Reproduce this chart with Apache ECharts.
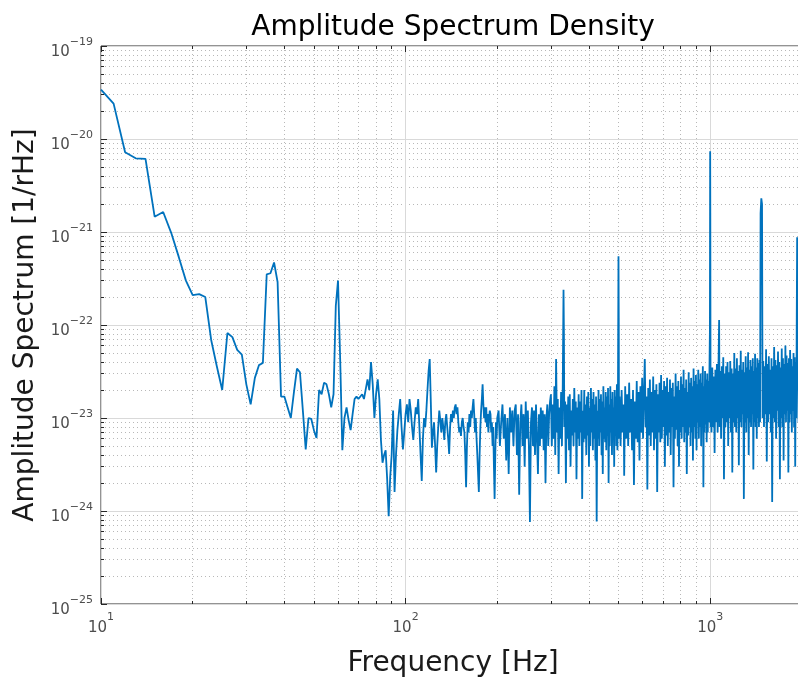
<!DOCTYPE html>
<html>
<head>
<meta charset="utf-8">
<script src="https://cdn.jsdelivr.net/npm/echarts@6/dist/echarts.min.js"></script>
<style>html,body{margin:0;padding:0;background:#fff}#chart{width:798px;height:677px}</style>
</head>
<body>
<div id="chart"></div>
<script>
// ---- data: [frequency Hz, amplitude 1/rHz] ----
const spectrum10to99 = [
[10,3.4e-20],[11,2.4e-20],[12,7.2e-21],[13,6.2e-21],[14,6.1e-21],[15,1.46e-21],[16,1.64e-21],[17,9.8e-22],[18,5.4e-22],[19,3.0e-22],
[20,2.1e-22],[21,2.15e-22],[22,2.0e-22],[23,6.9e-23],[24,3.6e-23],[25,2.0e-23],[26,8.2e-23],[27,7.4e-23],[28,5.4e-23],[29,4.8e-23],
[30,2.3e-23],[31,1.4e-23],[32,2.7e-23],[33,3.7e-23],[34,3.9e-23],[35,3.5e-22],[36,3.6e-22],[37,4.7e-22],[38,2.9e-22],[39,1.7e-23],
[40,1.7e-23],[41,1.3e-23],[42,1.0e-23],[43,1.9e-23],[44,3.4e-23],[45,3.1e-23],[46,1.2e-23],[47,4.6e-24],[48,1.0e-23],[49,9.8e-24],
[50,7.4e-24],[51,6.1e-24],[52,2.0e-23],[53,1.8e-23],[54,2.4e-23],[55,2.3e-23],[56,1.8e-23],[57,1.3e-23],[58,1.8e-23],[59,1.6e-22],
[60,3.0e-22],[61,4.2e-23],[62,4.5e-24],[63,1.0e-23],[64,1.3e-23],[65,9.5e-24],[66,7.4e-24],[67,1.1e-23],[68,1.6e-23],[69,1.7e-23],
[70,1.6e-23],[71,1.6e-23],[72,1.8e-23],[73,1.6e-23],[74,1.6e-23],[75,2.6e-23],[76,2.0e-23],[77,4.0e-23],[78,2.3e-23],[79,1.0e-23],
[80,1.8e-23],[81,2.6e-23],[82,1.6e-23],[83,5.8e-24],[84,3.3e-24],[85,4.0e-24],[86,4.5e-24],[87,2.2e-24],[88,8.8e-25],[89,2.3e-24],
[90,4.0e-24],[91,1.2e-23],[92,1.6e-24],[93,4.0e-24],[94,7.4e-24],[95,1.1e-23],[96,1.6e-23],[97,8.0e-24],[98,4.6e-24],[99,7.0e-24]
];
const spectrum100to200 = [
[100,1.1e-23],[101,1.4e-23],[102,9e-24],[103,1.6e-23],[104,1.2e-23],[105,8e-24],[106,5.8e-24],[107,9e-24],[108,1.3e-23],[109,1.1e-23],
[110,1.6e-23],[111,8e-24],[112,4e-24],[113,2.1e-24],[114,6e-24],[115,1.0e-23],[116,8e-24],[117,1.2e-23],[118,2.0e-23],[119,3.2e-23],
[120,4.3e-23],[121,1.5e-23],[122,4.8e-24],[123,7e-24],[124,9e-24],[125,5e-24],[126,2.6e-24],[127,5e-24],[128,8e-24],[129,1.2e-23],
[130,9.5e-24],[131,7e-24],[132,1.0e-23],[133,8e-24],[134,5.8e-24],[135,9e-24],[136,1.1e-23],[137,8e-24],[138,6e-24],[139,4.1e-24],
[140,8e-24],[141,1.1e-23],[142,9e-24],[143,1.2e-23],[144,1.0e-23],[145,1.3e-23],[146,1.4e-23],[147,1.1e-23],[148,1.3e-23],[149,9e-24],
[150,7e-24],[151,8e-24],[152,6.4e-24],[153,9e-24],[154,1.0e-23],[155,8e-24],[156,7e-24],[157,4e-24],[158,1.8e-24],[159,5e-24],
[160,9e-24],[161,7e-24],[162,1.1e-23],[163,8e-24],[164,1.2e-23],[165,1.0e-23],[166,1.3e-23],[167,1.6e-23],[168,1.1e-23],[169,7e-24],
[170,1.0e-23],[171,6e-24],[172,4e-24],[173,2.5e-24],[174,1.6e-24],[175,4e-24],[176,8e-24],[177,1.2e-23],[178,1.6e-23],[179,2.3e-23],
[180,1.4e-23],[181,1.0e-23],[182,1.3e-23],[183,9e-24],[184,1.3e-23],[185,8e-24],[186,1.1e-23],[187,7e-24],[188,1.0e-23],[189,1.2e-23],
[190,1.1e-23],[191,7e-24],[192,9e-24],[193,5e-24],[194,8e-24],[195,3e-24],[196,1.35e-24],[197,4e-24],[198,9e-24],[199,6e-24],[200,1.0e-23]
];
const spectrum200to300 = [
[202,1.2e-23],[204,5e-24],[206,9e-24],[208,1.4e-23],[210,6e-24],[212,1.1e-23],[214,3.5e-24],[216,1.0e-23],[218,2.5e-24],[220,1.3e-23],
[222,7e-24],[224,1.2e-23],[226,5e-24],[228,1.2e-23],[230,1.4e-23],[232,4e-24],[234,1.1e-23],[236,1.5e-24],[238,9e-24],[240,1.4e-23],
[242,5e-24],[244,1.1e-23],[246,3e-24],[248,1.5e-23],[250,6e-24],[252,1.2e-23],[254,5e-24],[256,7.6e-25],[258,9e-24],[260,1.3e-23],
[262,5e-24],[264,1.2e-23],[266,4e-24],[268,1.4e-23],[270,6e-24],[272,2.5e-24],[274,1.1e-23],[276,5e-24],[278,1.3e-23],[280,6e-24],
[282,1.2e-23],[284,4.5e-24],[286,1.1e-23],[288,2e-24],[290,1.0e-23],[292,1.4e-23],[294,5e-24],[296,1.1e-23],[298,1.5e-23]
];
const spectrum300to500 = [
[300,1.8e-23],[302,5e-24],[304,1.4e-23],[306,6e-24],[308,2.2e-23],[310,4e-24],[312,4.3e-23],[314,7e-24],[316,1.6e-23],[318,2.5e-24],
[320,1.3e-23],[322,6e-24],[324,1.9e-23],[326,5e-24],[328,2.0e-23],[330,2.4e-22],[331,8e-23],[332,8e-24],[334,1.5e-23],[336,2.0e-24],
[338,1.4e-23],[340,6e-24],[342,1.7e-23],[344,4.5e-24],[346,1.8e-23],[348,3e-24],[350,1.2e-23],[352,6.5e-24],[354,1.6e-23],[356,5e-24],
[358,2.1e-23],[360,7e-24],[362,1.5e-23],[364,2.2e-24],[366,1.3e-23],[368,6e-24],[370,1.8e-23],[372,5e-24],[374,1.5e-23],[376,7e-24],
[378,2.0e-23],[380,1.35e-24],[382,1.2e-23],[384,5.5e-24],[386,2.0e-23],[388,6e-24],[390,1.4e-23],[392,4e-24],[394,1.7e-23],[396,6.5e-24],
[398,1.9e-23],[400,3e-24],[402,1.3e-23],[404,5e-24],[406,2.1e-23],[408,7e-24],[410,1.6e-23],[412,4.5e-24],[414,1.9e-23],[416,6e-24],
[418,1.4e-23],[420,3.5e-24],[422,1.7e-23],[424,7.7e-25],[426,1.2e-23],[428,6e-24],[430,2.0e-23],[432,5e-24],[434,1.6e-23],[436,7e-24],
[438,1.8e-23],[440,4e-24],[442,1.5e-23],[444,2.5e-24],[446,2.2e-23],[448,6e-24],[450,1.3e-23],[452,5.5e-24],[454,1.9e-23],[456,4.5e-24],
[458,1.7e-23],[460,6.5e-24],[462,2.1e-23],[464,2.0e-24],[466,1.4e-23],[468,5e-24],[470,2.2e-23],[472,7e-24],[474,1.6e-23],[476,4e-24],
[478,1.9e-23],[480,6e-24],[482,1.3e-23],[484,3e-24],[486,2.0e-23],[488,6.5e-24],[490,1.7e-23],[492,5e-24],[494,2.3e-23],[496,4.5e-24],
[498,1.8e-23],[500,5.5e-22],[501,1.2e-22],[502,6e-24]
];
const spectrum500to1000 = [
[504,1.7e-23],[508,5e-24],[512,2.0e-23],[516,7e-24],[520,1.4e-23],[522,2.4e-24],[526,2.2e-23],[530,6e-24],[534,1.8e-23],[538,5e-24],
[542,2.4e-23],[546,7e-24],[550,1.6e-23],[554,4.5e-24],[558,2.0e-23],[562,1.9e-24],[566,1.5e-23],[570,6e-24],[574,2.5e-23],[578,5.5e-24],
[582,1.9e-23],[586,3.5e-24],[590,2.2e-23],[594,7e-24],[598,2.7e-23],[602,6e-24],[606,1.8e-23],[610,4.3e-23],[614,8e-24],[618,1.7e-23],
[622,1.7e-24],[626,2.1e-23],[630,6.5e-24],[634,2.6e-23],[638,5e-24],[642,1.9e-23],[646,7e-24],[650,2.8e-23],[654,4.5e-24],[658,2.0e-23],
[662,6e-24],[666,2.3e-23],[670,1.6e-24],[674,1.8e-23],[678,7e-24],[682,2.4e-23],[686,5.5e-24],[690,2.9e-23],[694,6e-24],[698,2.0e-23],
[702,8e-24],[706,2.5e-23],[710,3e-24],[714,2.2e-23],[718,6.5e-24],[722,2.7e-23],[726,5e-24],[730,1.9e-23],[734,7e-24],[738,2.6e-23],
[742,4e-24],[746,2.1e-23],[750,8e-24],[754,2.4e-23],[758,1.8e-24],[762,1.7e-23],[766,6e-24],[770,3.0e-23],[774,7.5e-24],[778,2.2e-23],
[782,5e-24],[786,2.5e-23],[790,3e-24],[794,2.0e-23],[798,7e-24],[802,2.8e-23],[806,6e-24],[810,2.3e-23],[814,8e-24],[818,3.3e-23],
[822,5.5e-24],[826,2.1e-23],[830,7e-24],[834,2.6e-23],[838,2.5e-24],[842,1.9e-23],[846,6.5e-24],[850,3.1e-23],[854,8e-24],[858,2.4e-23],
[862,5e-24],[866,2.7e-23],[870,7e-24],[874,2.2e-23],[878,3.5e-24],[882,3.4e-23],[886,8e-24],[890,2.5e-23],[894,6e-24],[898,2.9e-23],
[902,4.5e-24],[906,2.3e-23],[910,9e-24],[914,3.3e-23],[918,6e-24],[922,2.6e-23],[926,8e-24],[930,3.0e-23],[934,5e-24],[938,2.4e-23],
[942,9e-24],[946,3.6e-23],[950,1.8e-24],[954,2.2e-23],[958,7e-24],[962,3.2e-23],[966,8.5e-24],[970,2.6e-23],[974,5.5e-24],[978,3.0e-23],
[982,7e-24],[986,2.5e-23],[990,9e-24],[994,2.8e-23],[998,9e-23],[1000,7.4e-21],[1001,1.6e-21],[1003,8e-24]
];
const spectrum1000to1460 = [
[1006,3.0e-23],[1010,7e-24],[1016,3.5e-23],[1022,8e-24],[1028,2.8e-23],[1034,4.2e-24],[1040,3.3e-23],[1046,9e-24],[1052,3.8e-23],[1058,7e-24],
[1064,2.9e-23],[1070,1.13e-22],[1074,8e-24],[1080,3.2e-23],[1086,6e-24],[1092,3.6e-23],[1098,1.0e-23],[1104,4.5e-23],[1110,2.2e-24],[1116,3.0e-23],
[1122,8e-24],[1128,3.6e-23],[1134,9e-24],[1140,4.0e-23],[1146,5e-24],[1152,3.1e-23],[1158,1.0e-23],[1164,4.1e-23],[1170,7e-24],[1176,3.4e-23],
[1182,2.6e-24],[1188,3.0e-23],[1194,9e-24],[1200,5.0e-23],[1206,8e-24],[1212,3.4e-23],[1218,7e-24],[1224,4.4e-23],[1230,1.0e-23],[1236,3.2e-23],
[1242,3.1e-24],[1248,3.7e-23],[1254,9e-24],[1260,5.3e-23],[1266,8e-24],[1272,3.3e-23],[1278,1.1e-23],[1284,4.0e-23],[1290,1.35e-24],[1296,3.1e-23],
[1302,9e-24],[1308,4.6e-23],[1314,7e-24],[1320,3.5e-23],[1326,1.0e-23],[1332,5.1e-23],[1338,4e-24],[1344,3.3e-23],[1350,9e-24],[1356,4.2e-23],
[1362,8e-24],[1368,3.6e-23],[1374,1.1e-23],[1380,4.4e-23],[1386,2.8e-24],[1392,3.2e-23],[1398,9e-24],[1404,4.9e-23],[1410,8e-24],[1416,3.5e-23],
[1422,6e-24],[1428,4.4e-23],[1434,1.0e-23],[1440,3.9e-23],[1446,8e-24],[1452,4.2e-23],[1458,9e-24]
];
const spectrum1460to2048 = [
[1464,1.6e-21],[1472,2.3e-21],[1480,2.0e-21],[1486,1.0e-23],[1494,4.1e-23],[1502,8e-24],[1510,3.6e-23],[1518,1.1e-23],[1526,5.5e-23],[1534,3.4e-24],
[1542,3.8e-23],[1550,9e-24],[1558,4.6e-23],[1566,1.1e-23],[1574,3.3e-23],[1582,7e-24],[1590,4.4e-23],[1598,1.25e-24],[1606,3.6e-23],[1614,1.0e-23],
[1622,5.8e-23],[1630,9e-24],[1638,4.2e-23],[1646,6e-24],[1654,3.7e-23],[1662,1.2e-23],[1670,5.2e-23],[1678,8e-24],[1686,4.0e-23],[1694,2.2e-24],
[1702,3.5e-23],[1710,1.0e-23],[1718,5.6e-23],[1726,8e-24],[1734,4.4e-23],[1742,3.5e-24],[1750,3.8e-23],[1758,1.1e-23],[1766,6.0e-23],[1774,9e-24],
[1782,4.7e-23],[1790,1.2e-23],[1798,3.9e-23],[1806,2.6e-24],[1814,4.4e-23],[1822,9e-24],[1830,5.4e-23],[1838,1.1e-23],[1846,4.3e-23],[1854,7e-24],
[1862,3.6e-23],[1870,1.2e-23],[1878,5.0e-23],[1886,8e-24],[1894,4.5e-23],[1902,3e-24],[1910,4.0e-23],[1918,1.0e-23],[1924,1.1e-22],[1930,8.8e-22],
[1934,2.0e-23],[1942,5.0e-23],[1950,9e-24],[1958,4.2e-23],[1966,1.1e-23],[1974,5.7e-23],[1982,4e-24],[1990,4.5e-23],[1998,1.0e-23],[2006,5.2e-23],
[2014,9e-24],[2022,3.8e-23],[2030,1.2e-23],[2038,4.8e-23],[2048,1.0e-23]
];

// ---- ticks ----
const xMajorTicks = [10, 100, 1000];
const xMinorTicks = [20, 30, 40, 50, 60, 70, 80, 90, 200, 300, 400, 500, 600, 700, 800, 900, 2000];
const yMajorTicks = [1e-25, 1e-24, 1e-23, 1e-22, 1e-21, 1e-20, 1e-19];
const yMinorTicks = [
2e-25,3e-25,4e-25,5e-25,6e-25,7e-25,8e-25,9e-25,
2e-24,3e-24,4e-24,5e-24,6e-24,7e-24,8e-24,9e-24,
2e-23,3e-23,4e-23,5e-23,6e-23,7e-23,8e-23,9e-23,
2e-22,3e-22,4e-22,5e-22,6e-22,7e-22,8e-22,9e-22,
2e-21,3e-21,4e-21,5e-21,6e-21,7e-21,8e-21,9e-21,
2e-20,3e-20,4e-20,5e-20,6e-20,7e-20,8e-20,9e-20
];

const titleText = 'Amplitude Spectrum Density';
const xLabelText = 'Frequency [Hz]';
const yLabelText = 'Amplitude Spectrum [1/rHz]';

const FONT = 'DejaVu Sans';
const TICKCOL = '#4d4d4d';
const AXCOL = '#262626';

const spectrum = [].concat(spectrum10to99, spectrum100to200, spectrum200to300,
  spectrum300to500, spectrum500to1000, spectrum1000to1460, spectrum1460to2048);

// "10" with a raised exponent: exponent on a short first line, base on the second line,
// transparent placeholders keep both lines the same width.
function powLabel(v) {
  const e = Math.round(Math.log10(v));
  const ex = (e < 0 ? '\u2212' : '') + Math.abs(e);
  return '{h|10}{s|' + ex + '}\n{b|10}{g|' + ex + '}';
}
const labelRich = {
  h: {fontSize: 15, lineHeight: 7, color: 'rgba(0,0,0,0)', fontFamily: FONT},
  s: {fontSize: 11, lineHeight: 7, color: TICKCOL, fontFamily: FONT},
  b: {fontSize: 15, lineHeight: 14, color: TICKCOL, fontFamily: FONT},
  g: {fontSize: 11, lineHeight: 14, color: 'rgba(0,0,0,0)', fontFamily: FONT}
};

const X_MIN = 10, X_MAX = 2048, Y_MIN = 1e-25, Y_MAX = 1e-19;

function xAx(pos, ticks, len, opts) {
  return Object.assign({
    type: 'log', logBase: 10, min: X_MIN, max: X_MAX, position: pos, gridIndex: 0,
    axisLine: {show: false},
    axisTick: {show: true, inside: true, length: len, customValues: ticks, lineStyle: {color: AXCOL, width: 1}},
    axisLabel: {show: false},
    splitLine: {show: false},
    minorTick: {show: false}, minorSplitLine: {show: false}
  }, opts || {});
}
function yAx(pos, ticks, len, opts) {
  return Object.assign({
    type: 'log', logBase: 10, min: Y_MIN, max: Y_MAX, position: pos, gridIndex: 0,
    axisLine: {show: false},
    axisTick: {show: true, inside: true, length: len, customValues: ticks, lineStyle: {color: AXCOL, width: 1}},
    axisLabel: {show: false},
    splitLine: {show: false},
    minorTick: {show: false}, minorSplitLine: {show: false}
  }, opts || {});
}

const chart = echarts.init(document.getElementById('chart'), null, {renderer: 'canvas'});
chart.setOption({
  animation: false,
  backgroundColor: '#fff',
  grid: {left: 101, top: 46, right: -7, bottom: 73, show: true, borderColor: AXCOL, borderWidth: 1,
         backgroundColor: 'transparent', containLabel: false, outerBoundsMode: 'none'},
  graphic: [{
    type: 'text', x: 453, y: 14, z: 10,
    style: {text: titleText, fill: '#000', font: '28px "DejaVu Sans"', textAlign: 'center', textVerticalAlign: 'top'}
  }],
  xAxis: [
    xAx('bottom', xMajorTicks, 6, {
      axisLabel: {show: true, customValues: xMajorTicks, formatter: powLabel, rich: labelRich, margin: 4, padding: [6, 0, 0, 0]},
      splitLine: {show: true, lineStyle: {color: '#d9d9d9', width: 1}},
      name: xLabelText, nameLocation: 'middle', nameGap: 46,
      nameTextStyle: {fontSize: 28, fontFamily: FONT, color: '#1a1a1a'}
    }),
    xAx('bottom', xMinorTicks, 3, {
      splitLine: {show: true, lineStyle: {color: '#b8b8b8', width: 1, type: [1, 3]}}
    }),
    xAx('top', xMajorTicks, 6),
    xAx('top', xMinorTicks, 3)
  ],
  yAxis: [
    yAx('left', yMajorTicks, 6, {
      axisLabel: {show: true, customValues: yMajorTicks, formatter: powLabel, rich: labelRich, margin: 8, padding: [6, 0, 0, 0]},
      splitLine: {show: true, lineStyle: {color: '#d9d9d9', width: 1}},
      name: yLabelText, nameLocation: 'middle', nameGap: 52, nameRotate: 90,
      nameTextStyle: {fontSize: 28, fontFamily: FONT, color: '#1a1a1a'}
    }),
    yAx('left', yMinorTicks, 3, {
      splitLine: {show: true, lineStyle: {color: '#b8b8b8', width: 1, type: [1, 3]}}
    })
  ],
  series: [{
    type: 'line', xAxisIndex: 0, yAxisIndex: 0, data: spectrum,
    showSymbol: false, symbol: 'none', sampling: false, clip: true, z: 5,
    lineStyle: {color: '#0072BD', width: 1.8}
  }]
});
</script>
</body>
</html>
